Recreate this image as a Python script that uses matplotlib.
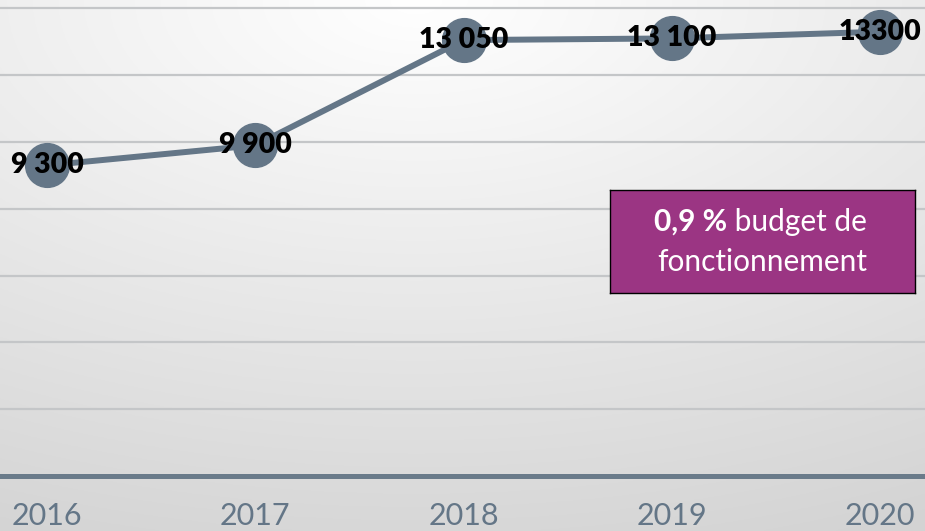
import numpy as np
import matplotlib
matplotlib.use("Agg")
import matplotlib.pyplot as plt

annees = ["2016", "2017", "2018", "2019", "2020"]
valeurs = [9300, 9900, 13050, 13100, 13300]
etiquettes = ["9 300", "9 900", "13 050", "13 100", "13300"]
grille = [2000, 4000, 6000, 8000, 10000, 12000, 14000]

police = ["Lato", "DejaVu Sans"]
gris_bleu = "#647687"

fig = plt.figure(figsize=(9.25, 5.31), dpi=100)

# fond en degradé radial (blanc en haut, gris clair vers les bords)
fond = fig.add_axes([0, 0, 1, 1], zorder=0)
yy, xx = np.mgrid[0:1:300j, 0:1:500j]
dist = np.sqrt(((xx - 0.45) * 1.0) ** 2 + (yy * 1.1) ** 2)
niveau = 1.0 - 0.17 * np.clip(dist, 0, 1.2) / 1.2
fond.imshow(np.dstack([niveau, niveau, niveau]), aspect="auto", extent=[0, 1, 1, 0])
fond.set_axis_off()

ax = fig.add_axes([0, 55 / 531, 1, 476 / 531], zorder=1)
ax.patch.set_alpha(0)
x = np.arange(len(annees))

for g in grille:
    ax.axhline(g, color="#c4c6c8", lw=1.6, zorder=1)

ax.plot(x, valeurs, color=gris_bleu, lw=4.3, marker="o", markersize=31.5,
        markerfacecolor=gris_bleu, markeredgecolor=gris_bleu, zorder=3)

for xi, v, t in zip(x, valeurs, etiquettes):
    ax.text(xi, v, t, ha="center", va="center", fontsize=20.5, fontweight="heavy",
            family=police, color="black", zorder=4)

ax.set_xlim(-0.226, 4.216)
ax.set_ylim(0, 14250)
ax.set_xticks(x)
ax.set_xticklabels(annees, family=police, fontsize=22, color=gris_bleu)
ax.tick_params(axis="x", length=0, pad=19)
ax.set_yticks([])
for s in ["top", "left", "right"]:
    ax.spines[s].set_visible(False)
ax.spines["bottom"].set_color("#6a7b8a")
ax.spines["bottom"].set_linewidth(3.6)

# encadré violet
boite = fig.add_axes([610 / 925, 1 - 293 / 531, 305 / 925, 103 / 531], zorder=5)
boite.set_facecolor("#9b3583")
boite.set_xticks([])
boite.set_yticks([])
for s in boite.spines.values():
    s.set_color("black")
    s.set_linewidth(1.0)
t1 = boite.text(0.145, 0.69, "0,9 %", ha="left", va="center", fontsize=21.5,
                fontweight="bold", color="white", family=police)
boite.annotate(" budget de", xy=(1, 0), xycoords=t1, xytext=(0, 0),
               textcoords="offset points", ha="left", va="bottom",
               fontsize=21.5, color="white", family=police)
boite.text(0.5, 0.30, "fonctionnement", ha="center", va="center", fontsize=21.5,
           color="white", family=police)

fig.savefig("out.png", dpi=100)
